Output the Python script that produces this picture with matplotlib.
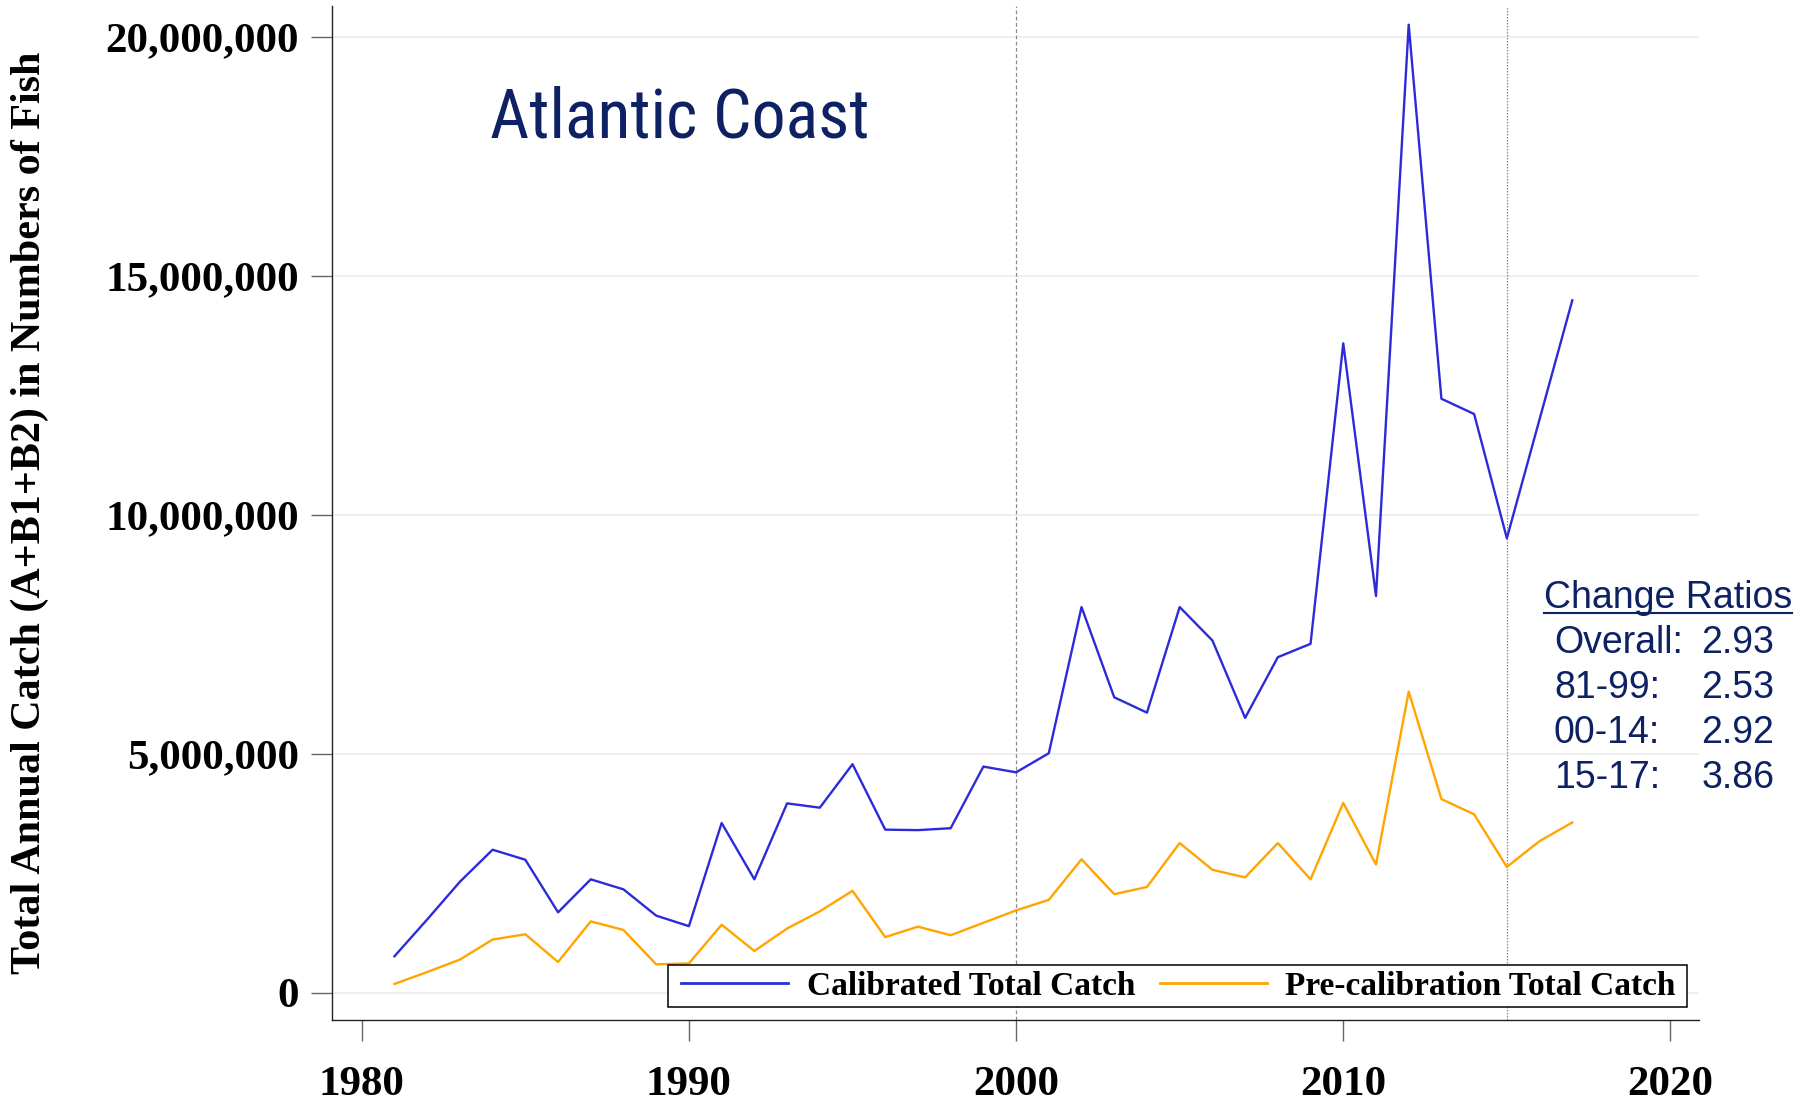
import matplotlib
matplotlib.use('Agg')
import matplotlib.pyplot as plt
from matplotlib import font_manager
from matplotlib.lines import Line2D
from matplotlib.patches import Rectangle
from matplotlib.font_manager import FontProperties
from matplotlib.ticker import FuncFormatter

# ---------------- data ----------------
years = list(range(1981, 2018))
calibrated = [0.76e6, 1.53e6, 2.32e6, 2.99e6, 2.78e6, 1.68e6, 2.37e6, 2.16e6, 1.61e6, 1.39e6,
              3.55e6, 2.37e6, 3.96e6, 3.87e6, 4.78e6, 3.41e6, 3.40e6, 3.44e6, 4.73e6, 4.61e6,
              5.01e6, 8.07e6, 6.18e6, 5.86e6, 8.07e6, 7.37e6, 5.75e6, 7.02e6, 7.30e6, 13.59e6,
              8.30e6, 20.26e6, 12.43e6, 12.11e6, 9.51e6, 12.00e6, 14.49e6]
precalibration = [0.18e6, 0.43e6, 0.69e6, 1.11e6, 1.22e6, 0.64e6, 1.49e6, 1.31e6, 0.59e6, 0.61e6,
                  1.42e6, 0.87e6, 1.34e6, 1.70e6, 2.13e6, 1.16e6, 1.38e6, 1.20e6, 1.46e6, 1.72e6,
                  1.94e6, 2.79e6, 2.06e6, 2.21e6, 3.13e6, 2.57e6, 2.41e6, 3.13e6, 2.37e6, 3.97e6,
                  2.68e6, 6.30e6, 4.05e6, 3.73e6, 2.63e6, 3.17e6, 3.56e6]
series_labels = ["Calibrated Total Catch", "Pre-calibration Total Catch"]
x_ticks = [1980, 1990, 2000, 2010, 2020]
y_ticks = [0, 5e6, 10e6, 15e6, 20e6]
period_lines = [2000, 2015]
ratio_labels = ["Overall:", "81-99:", "00-14:", "15-17:"]
ratio_values = ["2.93", "2.53", "2.92", "3.86"]
title = "Atlantic Coast"
ylabel = "Total Annual Catch (A+B1+B2) in Numbers of Fish"

# ---------------- styling ----------------
BLUE = '#2b2bd9'
ORANGE = '#ffa500'
NAVY = '#0d2163'
SERIF = 'Liberation Serif'
DPI = 100

# look for a narrow sans face for the title (Arial Narrow look-alike)
title_fp = None
prefs = ['liberationsansnarrow-regular', 'arialnarrow', 'arial narrow', 'nimbussansnarrow-regular',
         'nimbussansnarrow', 'robotocondensed-regular', 'opensanscondensed']
entries = font_manager.fontManager.ttflist
for key in prefs:
    for f in entries:
        base = f.fname.split('/')[-1].lower().replace('_', '').replace(' ', '')
        if base.startswith(key.replace(' ', '')) and 'bold' not in base and 'italic' not in base:
            title_fp = FontProperties(fname=f.fname)
            break
    if title_fp is not None:
        break
if title_fp is None:
    title_fp = FontProperties(family='Liberation Sans')

fig = plt.figure(figsize=(18.10, 11.01), dpi=DPI)
ax = fig.add_axes([0.1836, 0.0735, 0.7552, 0.921])

ax.plot(years, calibrated, color=BLUE, lw=1.7, label=series_labels[0], zorder=3)
ax.plot(years, precalibration, color=ORANGE, lw=1.7, label=series_labels[1], zorder=3)

ax.set_xlim(1979.10, 2020.88)
ax.set_ylim(-0.576e6, 20.65e6)
ax.set_xticks(x_ticks)
ax.set_yticks(y_ticks)
ax.yaxis.set_major_formatter(FuncFormatter(lambda v, p: f"{v:,.0f}"))

ax.yaxis.grid(True, color='#ececec', lw=1.2)
ax.set_axisbelow(True)

ax.axvline(period_lines[0], color='#8a8a8a', ls=(0, (3, 2)), lw=0.9, zorder=1)
ax.axvline(period_lines[1], color='#8a8a8a', ls=(0, (1.2, 1.2)), lw=0.9, zorder=1)

for s in ['top', 'right']:
    ax.spines[s].set_visible(False)
for s in ['left', 'bottom']:
    ax.spines[s].set_color('#222222')
    ax.spines[s].set_linewidth(1.0)

ax.tick_params(axis='both', direction='out', length=15, width=1, color='#666666', labelsize=31)
ax.tick_params(axis='x', pad=18)
ax.tick_params(axis='y', pad=9)
for lab in ax.get_xticklabels() + ax.get_yticklabels():
    lab.set_fontfamily(SERIF)
    lab.set_fontweight('bold')

fig.text(0.0165, 0.534, ylabel, rotation=90, ha='center', va='center',
         family=SERIF, weight='bold', size=30.3)

# title: fit width to reference
t = ax.text(0.1150, 0.870, title, transform=ax.transAxes, ha='left', va='baseline',
            fontproperties=title_fp, color=NAVY)
t.set_fontsize(50)
fig.canvas.draw()
w = t.get_window_extent(fig.canvas.get_renderer()).width
t.set_fontsize(min(50 * 380.0 / w, 54))

# legend: frame drawn as a rectangle, entries frameless inside it
box = Rectangle((0.2453, 0.0125), 0.9912 - 0.2453, 0.0545 - 0.0125, transform=ax.transAxes,
                facecolor='white', edgecolor='black', lw=1.1, zorder=5)
ax.add_patch(box)
leg = ax.legend(loc='center left', bbox_to_anchor=(0.2553, 0.0335), ncol=2,
                prop=FontProperties(family=SERIF, weight='bold', size=24),
                frameon=False, handlelength=3.2, handletextpad=0.56, columnspacing=0.75,
                borderpad=0, borderaxespad=0)
leg.set_zorder(6)
for h in leg.get_lines():
    h.set_linewidth(2.0)

# Change ratios block
hdr = fig.text(0.853, 0.4478, "Change Ratios", ha='left', va='baseline',
               family='Liberation Sans', size=27, color=NAVY)
ybase = [0.4069, 0.3660, 0.3252, 0.2843]
for lab, val, yy in zip(ratio_labels, ratio_values, ybase):
    fig.text(0.8585, yy, lab, ha='left', va='baseline', family='Liberation Sans', size=27, color=NAVY)
    fig.text(0.9400, yy, val, ha='left', va='baseline', family='Liberation Sans', size=27, color=NAVY)

fig.canvas.draw()
bb = hdr.get_window_extent(fig.canvas.get_renderer()).transformed(fig.transFigure.inverted())
fig.add_artist(Line2D([bb.x0, bb.x1], [0.4432, 0.4432], color=NAVY, lw=1.5,
                      transform=fig.transFigure))

fig.savefig('out.png', dpi=DPI, facecolor='white')
